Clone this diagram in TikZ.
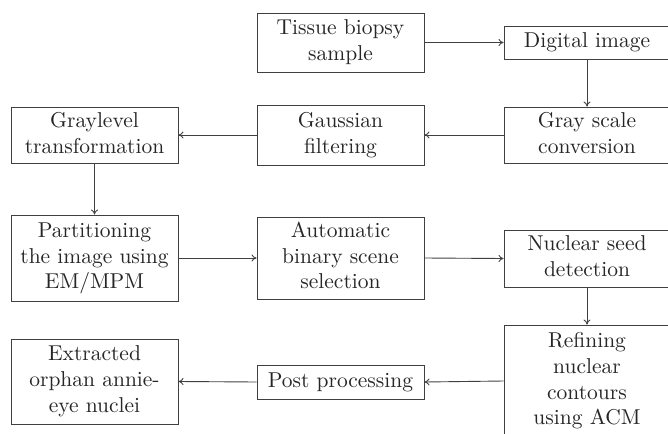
\documentclass[tikz,border=0pt]{standalone}
\usepackage{graphicx}
\usetikzlibrary{arrows.meta}
\newcommand{\boxtxt}[1]{\scalebox{2.15}{\begin{tabular}{@{}c@{}}#1\end{tabular}}}
\begin{document}
\begin{tikzpicture}[x=1pt,y=1pt,
  box/.style={draw=black!75, line width=0.9pt, rectangle, inner sep=0pt, align=center,
    text=black!85, minimum width=167pt},
  arr/.style={draw=black!75, line width=0.9pt, -{To[length=5pt,width=7pt]}}]
\useasboundingbox (0,0) rectangle (668,-433);
\clip (0,0) rectangle (668,-433);
\node[box, minimum height=59pt] (tissue) at (340.5,-42.5) {\boxtxt{Tissue biopsy\\sample}};
\node[box, minimum height=33pt, minimum width=166pt] (digital) at (587,-42.5) {\boxtxt{Digital image}};
\node[box, minimum height=56pt, minimum width=166pt] (gray) at (587,-135) {\boxtxt{Gray scale\\conversion}};
\node[box, minimum height=60pt] (gauss) at (340.5,-135) {\boxtxt{Gaussian\\filtering}};
\node[box, minimum height=56pt] (graylevel) at (94.5,-135) {\boxtxt{Graylevel\\transformation}};
\node[box, minimum height=86pt] (part) at (94.5,-258) {\boxtxt{Partitioning\\the image using\\EM/MPM}};
\node[box, minimum height=82pt] (auto) at (340.5,-258) {\boxtxt{Automatic\\binary scene\\selection}};
\node[box, minimum height=57pt, minimum width=166pt] (seed) at (587,-258.5) {\boxtxt{Nuclear seed\\detection}};
\node[box, minimum height=112pt, minimum width=166pt] (refine) at (587,-381) {\boxtxt{Refining\\nuclear\\contours\\using ACM}};
\node[box, minimum height=34pt] (post) at (340.5,-382) {\boxtxt{Post processing}};
\node[box, minimum height=85pt] (extr) at (94.5,-381.5) {\boxtxt{Extracted\\orphan annie-\\eye nuclei}};
\draw[arr] (tissue.east) -- (digital.west);
\draw[arr] (digital.south) -- (gray.north);
\draw[arr] (gray.west) -- (gauss.east);
\draw[arr] (gauss.west) -- (graylevel.east);
\draw[arr] (graylevel.south) -- (part.north);
\draw[arr] (part.east) -- (auto.west);
\draw[arr] (auto.east) -- (seed.west);
\draw[arr] (seed.south) -- (refine.north);
\draw[arr] (refine.west) -- (post.east);
\draw[arr] (post.west) -- (extr.east);
\end{tikzpicture}
\end{document}
